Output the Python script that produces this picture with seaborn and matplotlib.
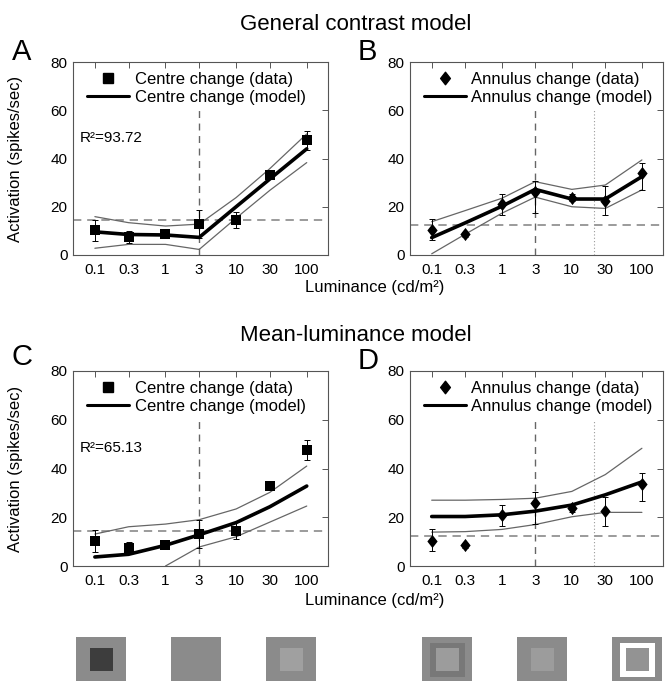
import numpy as np
import pandas as pd
import matplotlib
matplotlib.use("Agg")
import matplotlib.pyplot as plt
import seaborn as sns
from matplotlib.lines import Line2D
from matplotlib.patches import Rectangle
from matplotlib.path import Path

# ---------------- data ----------------
luminance = [0.1, 0.3, 1, 3, 10, 30, 100]
tick_labels = ["0.1", "0.3", "1", "3", "10", "30", "100"]
y_ticks = [0, 20, 40, 60, 80]

centre_data = [10.2, 7.4, 8.6, 13.0, 14.5, 33.0, 47.5]
centre_err_lo = [4.5, 2.5, 1.0, 5.8, 3.5, 1.0, 4.0]
centre_err_hi = [4.5, 2.5, 1.0, 5.8, 3.5, 1.0, 4.0]

annulus_data = [10.3, 8.5, 21.0, 26.0, 23.8, 22.4, 33.8]
annulus_err_lo = [4.0, 1.0, 4.5, 8.7, 1.5, 6.0, 7.0]
annulus_err_hi = [4.8, 1.0, 4.2, 4.5, 1.5, 6.0, 4.2]

gc_centre_model = [9.6, 8.5, 8.3, 7.3, 20.0, 31.5, 44.0]
gc_centre_upper = [15.9, 13.4, 12.0, 12.8, 23.8, 35.8, 50.2]
gc_centre_lower = [2.8, 4.4, 4.4, 2.3, 15.3, 26.8, 38.3]

gc_annulus_model = [7.2, 13.3, 20.2, 27.2, 23.2, 23.2, 32.5]
gc_annulus_upper = [13.8, 18.4, 23.5, 30.4, 27.2, 29.0, 39.4]
gc_annulus_lower = [0.5, 8.6, 17.3, 24.0, 20.0, 19.3, 27.0]

ml_centre_model = [3.7, 4.8, 8.5, 12.8, 17.8, 24.3, 32.8]
ml_centre_upper = [13.1, 16.1, 17.2, 19.0, 23.4, 30.2, 41.0]
ml_centre_lower = [np.nan, np.nan, 0.0, 7.8, 12.0, 18.0, 24.6]

ml_annulus_model = [20.3, 20.3, 21.0, 22.5, 25.0, 29.2, 34.5]
ml_annulus_upper = [27.0, 27.0, 27.3, 27.8, 30.6, 37.5, 48.3]
ml_annulus_lower = [13.9, 14.1, 15.0, 17.0, 20.2, 22.0, 22.0]

centre_baseline = 14.5
annulus_baseline = 12.4
ref_luminance = 3
annulus_dotted = 21
ref_top = 60
r2_values = {"A": "93.72", "C": "65.13"}

# ---------------- style ----------------
sns.set_theme(style="white")
plt.rcParams["font.family"] = ["Liberation Sans", "DejaVu Sans"]
plt.rcParams["axes.edgecolor"] = "#555555"
plt.rcParams["axes.linewidth"] = 0.8
plt.rcParams["text.color"] = "black"
plt.rcParams["axes.labelcolor"] = "black"
plt.rcParams["xtick.labelcolor"] = "black"
plt.rcParams["ytick.labelcolor"] = "black"

fig = plt.figure(figsize=(6.65, 6.81), dpi=100)
W, H = 665.0, 681.0

def px_axes(left, top, right, bottom):
    return fig.add_axes([left / W, 1 - bottom / H, (right - left) / W, (bottom - top) / H])

diamond = Path([(0, 1), (0.78, 0), (0, -1), (-0.78, 0), (0, 1)],
               [Path.MOVETO, Path.LINETO, Path.LINETO, Path.LINETO, Path.CLOSEPOLY])

def panel(ax, data, elo, ehi, model, upper, lower, baseline, kind, letter, r2=None):
    ax.set_xscale("log")
    df = pd.DataFrame({"lum": luminance, "data": data, "model": model,
                       "upper": upper, "lower": lower})
    ax.axhline(baseline, color="#8a8a8a", lw=1.2, ls=(0, (5, 3.5)), zorder=1)
    ax.vlines(ref_luminance, 0, ref_top, color="#666666", lw=1.0, ls=(0, (5, 4)), zorder=1)
    if kind == "annulus":
        ax.vlines(annulus_dotted, 0, ref_top, color="#999999", lw=0.8, ls=(0, (1, 2)), zorder=1)
    sns.lineplot(data=df, x="lum", y="upper", ax=ax, color="#666666", lw=0.9, zorder=2)
    sns.lineplot(data=df, x="lum", y="lower", ax=ax, color="#666666", lw=0.9, zorder=2)
    sns.lineplot(data=df, x="lum", y="model", ax=ax, color="black", lw=2.6, zorder=3)
    ax.errorbar(luminance, data, yerr=[elo, ehi], fmt="none", ecolor="black",
                elinewidth=0.7, capsize=2.2, capthick=0.7, zorder=4)
    mk = "s" if kind == "centre" else diamond
    ms = 56 if kind == "centre" else 90
    sns.scatterplot(data=df, x="lum", y="data", ax=ax, marker=mk, s=ms, color="black",
                    edgecolor="black", linewidth=0, zorder=5)
    ax.set_xlim(0.049, 200)
    ax.set_ylim(0, 80)
    ax.set_xticks(luminance)
    ax.set_xticklabels(tick_labels)
    ax.set_yticks(y_ticks)
    ax.minorticks_off()
    ax.tick_params(direction="in", length=4, width=0.7, color="#555555",
                   top=True, right=True, labelsize=11, pad=4, labelcolor="black")
    ax.tick_params(axis="x", pad=6)
    ax.set_xlabel("")
    ax.set_ylabel("")
    for s in ax.spines.values():
        s.set_visible(True)
        s.set_color("#555555")
        s.set_linewidth(0.8)
    name = "Centre" if kind == "centre" else "Annulus"
    handles = [
        Line2D([], [], marker=mk, ls="none", color="black",
               markersize=7.2 if kind == "centre" else 9),
        Line2D([], [], color="black", lw=2.2),
    ]
    ax.legend(handles, [f"{name} change (data)", f"{name} change (model)"],
              loc="upper left", bbox_to_anchor=(0.055, 0.95), frameon=False,
              fontsize=12, handlelength=2.5, handletextpad=0.35, labelspacing=0.2,
              borderpad=0, borderaxespad=0, labelcolor="black")
    if r2 is not None:
        ax.text(0.028, 48.5, f"R²={r2}", transform=ax.get_yaxis_transform(),
                fontsize=11, va="center", ha="left", color="black")

axA = px_axes(73, 62, 328, 255)
axB = px_axes(410, 62, 663, 255)
axC = px_axes(73, 371, 328, 566)
axD = px_axes(410, 371, 663, 566)

panel(axA, centre_data, centre_err_lo, centre_err_hi, gc_centre_model, gc_centre_upper,
      gc_centre_lower, centre_baseline, "centre", "A", r2_values["A"])
panel(axB, annulus_data, annulus_err_lo, annulus_err_hi, gc_annulus_model, gc_annulus_upper,
      gc_annulus_lower, annulus_baseline, "annulus", "B")
panel(axC, centre_data, centre_err_lo, centre_err_hi, ml_centre_model, ml_centre_upper,
      ml_centre_lower, centre_baseline, "centre", "C", r2_values["C"])
panel(axD, annulus_data, annulus_err_lo, annulus_err_hi, ml_annulus_model, ml_annulus_upper,
      ml_annulus_lower, annulus_baseline, "annulus", "D")

for ax in (axA, axC):
    ax.set_ylabel("Activation (spikes/sec)", fontsize=12, color="black")
    ax.yaxis.set_label_coords(-0.196, 0.5)

# texts
fig.text(356 / W, 1 - 25 / H, "General contrast model", fontsize=16, ha="center", va="center")
fig.text(356 / W, 1 - 335 / H, "Mean-luminance model", fontsize=16, ha="center", va="center")
fig.text(375 / W, 1 - 288 / H, "Luminance (cd/m²)", fontsize=12, ha="center", va="center")
fig.text(375 / W, 1 - 600 / H, "Luminance (cd/m²)", fontsize=12, ha="center", va="center")
for letter, x, y in (("A", 22, 52), ("B", 367, 52), ("C", 22, 357), ("D", 368, 361)):
    fig.text(x / W, 1 - y / H, letter, fontsize=21, ha="center", va="center")

# stimulus icons
icon_ax = fig.add_axes([0, 0, 1, 1], zorder=-1)
icon_ax.set_xlim(0, W)
icon_ax.set_ylim(H, 0)
icon_ax.axis("off")
outer_grey = "#8b8b8b"
icon_left = [76, 171, 266, 422, 517, 612]
icon_inner = ["#3d3d3d", None, "#a0a0a0", "#9c9c9c", "#9c9c9c", "#939393"]
icon_ring = [None, None, None, "#787878", None, "white"]
for left, inner, ring in zip(icon_left, icon_inner, icon_ring):
    icon_ax.add_patch(Rectangle((left, 637), 50, 50, color=outer_grey, lw=0))
    if ring is not None:
        icon_ax.add_patch(Rectangle((left + 7.5, 643), 35, 34, color=ring, lw=0))
    if inner is not None:
        icon_ax.add_patch(Rectangle((left + 13.5, 648), 23, 23, color=inner, lw=0))

fig.savefig("out.png", dpi=100)
